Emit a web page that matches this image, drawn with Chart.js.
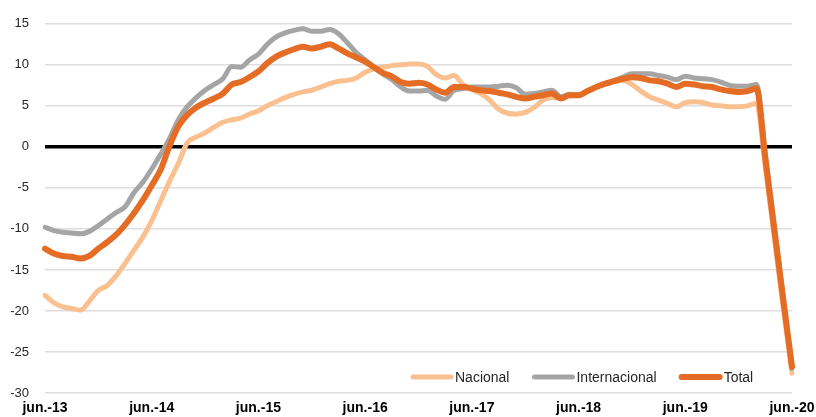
<!DOCTYPE html>
<html>
<head>
<meta charset="utf-8">
<script src="https://cdn.jsdelivr.net/npm/chart.js@4/dist/chart.umd.min.js"></script>
<style>
  html, body { margin: 0; padding: 0; background: #fff; }
  #wrap { width: 816px; height: 417px; position: relative; }
</style>
</head>
<body>
<div id="wrap"><canvas id="chart"></canvas></div>
<script>
// monthly, jun.-13 .. jun.-20
const categories = [
  'jun.-13','jul.-13','ago.-13','sep.-13','oct.-13','nov.-13','dic.-13',
  'ene.-14','feb.-14','mar.-14','abr.-14','may.-14','jun.-14','jul.-14','ago.-14','sep.-14','oct.-14','nov.-14','dic.-14',
  'ene.-15','feb.-15','mar.-15','abr.-15','may.-15','jun.-15','jul.-15','ago.-15','sep.-15','oct.-15','nov.-15','dic.-15',
  'ene.-16','feb.-16','mar.-16','abr.-16','may.-16','jun.-16','jul.-16','ago.-16','sep.-16','oct.-16','nov.-16','dic.-16',
  'ene.-17','feb.-17','mar.-17','abr.-17','may.-17','jun.-17','jul.-17','ago.-17','sep.-17','oct.-17','nov.-17','dic.-17',
  'ene.-18','feb.-18','mar.-18','abr.-18','may.-18','jun.-18','jul.-18','ago.-18','sep.-18','oct.-18','nov.-18','dic.-18',
  'ene.-19','feb.-19','mar.-19','abr.-19','may.-19','jun.-19','jul.-19','ago.-19','sep.-19','oct.-19','nov.-19','dic.-19',
  'ene.-20','feb.-20','mar.-20','abr.-20','may.-20','jun.-20'
];
const tickLabels = ['jun.-13','jun.-14','jun.-15','jun.-16','jun.-17','jun.-18','jun.-19','jun.-20'];

const nacional = [
  -18.1, -19.0, -19.5, -19.7, -19.9, -18.8, -17.5, -16.9, -15.7, -14.2, -12.6, -11.0,
  -9.0, -6.6, -4.2, -2.0, 0.5, 1.2, 1.7, 2.4, 3.0, 3.3, 3.5, 4.0,
  4.4, 5.0, 5.5, 6.0, 6.4, 6.7, 6.9, 7.3, 7.7, 8.0, 8.1, 8.4,
  9.1, 9.5, 9.7, 9.9, 10.0, 10.1, 10.1, 9.8, 8.8, 8.4, 8.7, 7.6,
  7.0, 6.5, 5.7, 4.6, 4.1, 4.0, 4.2, 4.8, 5.7, 6.0, 6.1, 6.3,
  6.3, 6.8, 7.3, 7.7, 8.0, 8.1, 7.6, 6.8, 6.1, 5.7, 5.3, 4.9,
  5.4, 5.5, 5.4, 5.1, 5.0, 4.9, 4.9, 5.0, 5.3, -2.5, -11.0, -19.5,
  -27.6
];
const internacional = [
  -9.8, -10.2, -10.4, -10.5, -10.6, -10.3, -9.6, -8.8, -8.0, -7.3, -5.6, -4.3,
  -2.7, -0.9, 1.0, 3.3, 4.9, 6.0, 6.9, 7.6, 8.3, 9.8, 9.7, 10.6,
  11.3, 12.5, 13.4, 13.9, 14.2, 14.4, 14.1, 14.1, 14.3, 13.8, 12.7, 11.5,
  10.6, 9.7, 8.9, 8.2, 7.3, 6.8, 6.8, 6.9, 6.2, 5.8, 6.9, 7.1,
  7.3, 7.3, 7.3, 7.4, 7.5, 7.2, 6.4, 6.5, 6.7, 6.9, 6.1, 6.4,
  6.3, 6.8, 7.3, 7.7, 8.1, 8.5, 8.9, 8.9, 8.9, 8.7, 8.5, 8.2,
  8.6, 8.4, 8.3, 8.2, 7.9, 7.5, 7.4, 7.4, 7.6, -0.9, -9.5, -18.2,
  -27.0
];
const total = [
  -12.4, -13.0, -13.3, -13.4, -13.6, -13.3, -12.4, -11.6, -10.7, -9.5, -8.1, -6.5,
  -4.7, -2.8, 0.1, 2.5, 3.9, 4.8, 5.4, 5.9, 6.5, 7.6, 7.9, 8.5,
  9.2, 10.2, 11.0, 11.5, 11.9, 12.2, 12.0, 12.2, 12.5, 12.0, 11.4, 10.9,
  10.4, 9.7, 9.0, 8.6, 7.9, 7.7, 7.8, 7.6, 7.0, 6.6, 7.3, 7.3,
  7.1, 6.9, 6.8, 6.6, 6.4, 6.1, 5.9, 6.1, 6.3, 6.5, 5.9, 6.3,
  6.3, 6.8, 7.3, 7.7, 8.0, 8.3, 8.5, 8.4, 8.1, 8.0, 7.7, 7.3,
  7.7, 7.6, 7.4, 7.3, 7.0, 6.8, 6.7, 6.8, 7.1, -1.4, -10.0, -18.5,
  -26.8
];

const seriesNames = ['Nacional', 'Internacional', 'Total'];
const seriesColors = ['#FAC090', '#A5A5A5', '#E46C24'];
const seriesWidths = [5, 5, 6];

const FONT = "'Liberation Sans', Arial, sans-serif";

// legend drawn inside the plot, bottom right
const innerLegend = {
  id: 'innerLegend',
  afterDatasetsDraw(chart) {
    const { ctx, chartArea } = chart;
    const y = chartArea.bottom - 16;
    let x = chartArea.left + 366;
    ctx.save();
    ctx.font = '14px ' + FONT;
    ctx.textBaseline = 'middle';
    chart.data.datasets.forEach(ds => {
      ctx.strokeStyle = ds.borderColor;
      ctx.lineWidth = ds.borderWidth;
      ctx.lineCap = 'round';
      ctx.beginPath();
      ctx.moveTo(x + 2, y);
      ctx.lineTo(x + 40, y);
      ctx.stroke();
      ctx.fillStyle = '#262626';
      ctx.fillText(ds.label, x + 44, y + 1);
      x += 44 + ctx.measureText(ds.label).width + 23;
    });
    ctx.restore();
  }
};

const datasets = [nacional, internacional, total].map((vals, i) => ({
  label: seriesNames[i],
  data: vals,
  borderColor: seriesColors[i],
  backgroundColor: seriesColors[i],
  borderWidth: seriesWidths[i],
  pointRadius: 0,
  cubicInterpolationMode: 'monotone',
  borderCapStyle: 'round',
  borderJoinStyle: 'round',
  order: 2 - i
}));

new Chart(document.getElementById('chart'), {
  type: 'line',
  data: { labels: categories, datasets },
  options: {
    responsive: true,
    maintainAspectRatio: false,
    animation: false,
    layout: { padding: { top: 21, left: 0, right: 24, bottom: 0 } },
    plugins: {
      legend: { display: false },
      tooltip: { enabled: false }
    },
    scales: {
      x: {
        grid: { display: false, drawTicks: false },
        border: { display: false },
        afterFit: s => { s.height = 24; s.paddingLeft = 0; s.paddingRight = 0; },
        ticks: {
          autoSkip: false,
          maxRotation: 0,
          padding: 7,
          color: '#000',
          font: { family: FONT, size: 14, weight: 'bold' },
          callback: function (v, i) {
            const lab = categories[i];
            return tickLabels.includes(lab) ? lab : '';
          }
        }
      },
      y: {
        min: -30,
        max: 15,
        afterFit: s => { s.width = 45; },
        border: { display: false },
        grid: {
          drawTicks: false,
          color: c => c.tick && c.tick.value === 0 ? '#000' : '#dedede',
          lineWidth: c => c.tick && c.tick.value === 0 ? 3.5 : 1.5
        },
        ticks: {
          stepSize: 5,
          padding: 16,
          color: '#262626',
          font: { family: FONT, size: 13 }
        }
      }
    }
  },
  plugins: [innerLegend]
});
</script>
</body>
</html>
